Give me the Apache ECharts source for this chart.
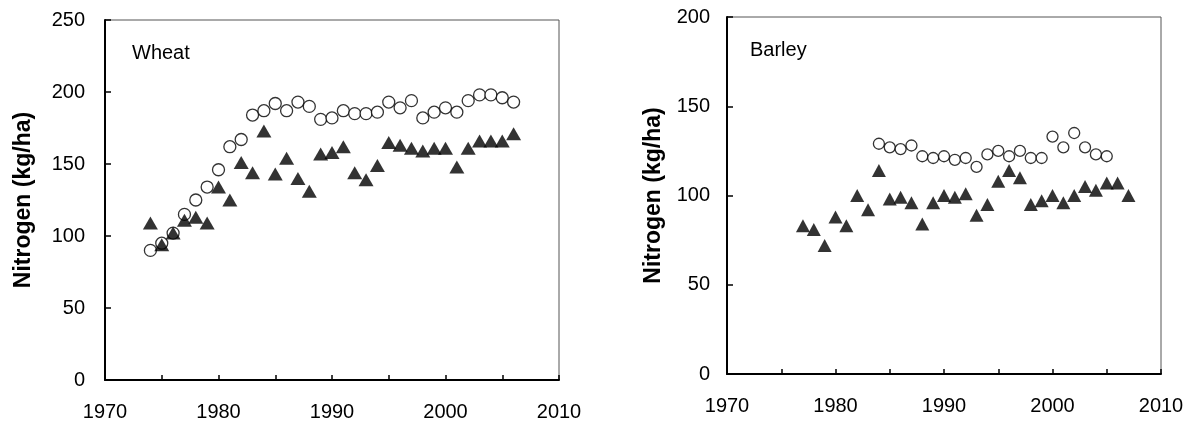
<!DOCTYPE html>
<html>
<head>
<meta charset="utf-8">
<script src="https://cdn.jsdelivr.net/npm/echarts@6/dist/echarts.min.js"></script>
<style>
  html, body { margin: 0; padding: 0; background: #fff; }
  #chart { width: 1190px; height: 424px; }
</style>
</head>
<body>
<div id="chart"></div>
<script>
// Nitrogen applied to wheat and barley, two series per crop
const wheatYears = [1974, 1975, 1976, 1977, 1978, 1979, 1980, 1981, 1982, 1983, 1984,
  1985, 1986, 1987, 1988, 1989, 1990, 1991, 1992, 1993, 1994, 1995, 1996, 1997, 1998,
  1999, 2000, 2001, 2002, 2003, 2004, 2005, 2006];
const wheatOpen = [90, 95, 102, 115, 125, 134, 146, 162, 167, 184, 187,
  192, 187, 193, 190, 181, 182, 187, 185, 185, 186, 193, 189, 194, 182,
  186, 189, 186, 194, 198, 198, 196, 193];
const wheatFilled = [109, 94, 102, 111, 113, 109, 134, 125, 151, 144, 173,
  143, 154, 140, 131, 157, 158, 162, 144, 139, 149, 165, 163, 161, 159,
  161, 161, 148, 161, 166, 166, 166, 171];

const barleyOpenYears = [1984, 1985, 1986, 1987, 1988, 1989, 1990, 1991, 1992, 1993, 1994,
  1995, 1996, 1997, 1998, 1999, 2000, 2001, 2002, 2003, 2004, 2005];
const barleyOpen = [129, 127, 126, 128, 122, 121, 122, 120, 121, 116, 123,
  125, 122, 125, 121, 121, 133, 127, 135, 127, 123, 122];
const barleyFilledYears = [1977, 1978, 1979, 1980, 1981, 1982, 1983, 1984, 1985, 1986, 1987,
  1988, 1989, 1990, 1991, 1992, 1993, 1994, 1995, 1996, 1997, 1998, 1999, 2000, 2001,
  2002, 2003, 2004, 2005, 2006, 2007];
const barleyFilled = [83, 81, 72, 88, 83, 100, 92, 114, 98, 99, 96,
  84, 96, 100, 99, 101, 89, 95, 108, 114, 110, 95, 97, 100, 96,
  100, 105, 103, 107, 107, 100];

const yearTicks = [1970, 1980, 1990, 2000, 2010];
const wheatTicks = [0, 50, 100, 150, 200, 250];
const barleyTicks = [0, 50, 100, 150, 200];
const yTitle = 'Nitrogen (kg/ha)';
const panelTitles = ['Wheat', 'Barley'];

const pairs = (xs, ys) => xs.map((x, i) => [x, ys[i]]);
const FONT = '"Liberation Sans", Arial, sans-serif';

function xAxisFor(gridIndex, margin) {
  return {
    type: 'value', gridIndex,
    min: yearTicks[0], max: yearTicks[yearTicks.length - 1], interval: 5,
    axisLine: { show: true, onZero: false, lineStyle: { color: '#000', width: 2 } },
    axisTick: { show: true, inside: true, length: 5, lineStyle: { color: '#000', width: 1.5 } },
    axisLabel: {
      color: '#000', fontFamily: FONT, fontSize: 20, margin,
      formatter: v => (yearTicks.includes(v) ? String(v) : '')
    },
    splitLine: { show: false }
  };
}

function yAxisFor(gridIndex, ticks, nameGap, labelMargin) {
  return {
    type: 'value', gridIndex,
    min: ticks[0], max: ticks[ticks.length - 1], interval: ticks[1] - ticks[0],
    name: yTitle, nameLocation: 'middle', nameGap,
    nameTextStyle: { color: '#000', fontFamily: FONT, fontSize: 23, fontWeight: 'bold' },
    axisLine: { show: true, lineStyle: { color: '#000', width: 2 } },
    axisTick: { show: true, inside: true, length: 6, lineStyle: { color: '#000', width: 1.5 } },
    axisLabel: { color: '#000', fontFamily: FONT, fontSize: 20, margin: labelMargin },
    splitLine: { show: false }
  };
}

const openStyle = { color: '#fff', borderColor: '#000', borderWidth: 1.3 };
const filledStyle = { color: '#000' };

function openSeries(idx, xs, ys, size) {
  return {
    type: 'scatter', xAxisIndex: idx, yAxisIndex: idx,
    data: pairs(xs, ys), symbol: 'circle', symbolSize: size,
    itemStyle: openStyle, silent: true
  };
}
function filledSeries(idx, xs, ys, size) {
  return {
    type: 'scatter', xAxisIndex: idx, yAxisIndex: idx,
    data: pairs(xs, ys), symbol: 'triangle', symbolSize: size,
    itemStyle: filledStyle, silent: true
  };
}

const chart = echarts.init(document.getElementById('chart'), null, { renderer: 'canvas' });
chart.setOption({
  animation: false,
  backgroundColor: '#fff',
  grid: [
    { left: 105, right: 631, top: 20, bottom: 44, show: true, borderColor: '#555', borderWidth: 1, backgroundColor: 'transparent' },
    { left: 727, right: 29, top: 17, bottom: 50, show: true, borderColor: '#555', borderWidth: 1, backgroundColor: 'transparent' }
  ],
  title: [
    { text: panelTitles[0], left: 127, top: 38, textStyle: { color: '#000', fontFamily: FONT, fontSize: 20, fontWeight: 'normal' } },
    { text: panelTitles[1], left: 745, top: 35, textStyle: { color: '#000', fontFamily: FONT, fontSize: 20, fontWeight: 'normal' } }
  ],
  xAxis: [xAxisFor(0, 22), xAxisFor(1, 22)],
  yAxis: [yAxisFor(0, wheatTicks, 70, 20), yAxisFor(1, barleyTicks, 62, 17)],
  series: [
    openSeries(0, wheatYears, wheatOpen, 12),
    filledSeries(0, wheatYears, wheatFilled, [15, 13]),
    openSeries(1, barleyOpenYears, barleyOpen, 11),
    filledSeries(1, barleyFilledYears, barleyFilled, [14, 13])
  ]
});
</script>
</body>
</html>
